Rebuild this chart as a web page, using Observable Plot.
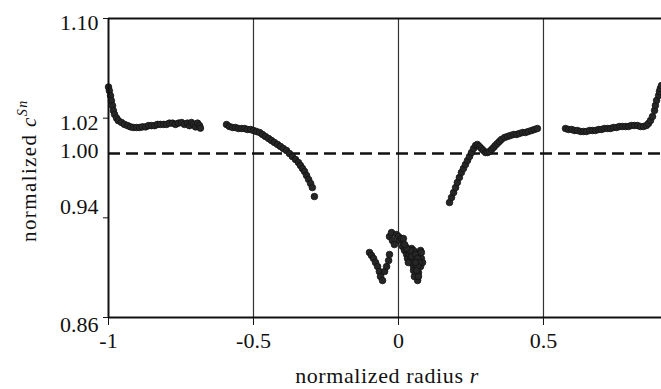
<!DOCTYPE html>
<html><head><meta charset="utf-8">
<script src="https://cdn.jsdelivr.net/npm/d3@7"></script>
<script src="https://cdn.jsdelivr.net/npm/@observablehq/plot@0.6"></script>
<style>html,body{margin:0;padding:0;background:#fff} svg{display:block}</style>
</head><body><div id="chart"></div>
<script>
// Axis ticks and reference values
const xTicks = [-1, -0.5, 0, 0.5];
const gridR = [-0.5, 0, 0.5];
const yTicks = [0.86, 0.94, 1.02, 1.10];
const refC = 0.9916;      // dashed reference line (as drawn)
const refLabel = "1.00";

// Segment 1: left edge
const r1 = [-1.000,-0.997,-0.993,-0.990,-0.986,-0.983,-0.979,-0.972,-0.966,-0.955,-0.945,-0.934,-0.924,-0.914,-0.903,-0.893,-0.883,-0.872,-0.862,-0.852,-0.841,-0.831,-0.821,-0.810,-0.800,-0.790,-0.779,-0.769,-0.759,-0.748,-0.738,-0.728,-0.721,-0.714,-0.707,-0.700,-0.693,-0.686,-0.683];
const c1 = [1.045,1.042,1.038,1.034,1.030,1.026,1.023,1.020,1.018,1.0165,1.015,1.014,1.013,1.0125,1.0125,1.0125,1.013,1.013,1.014,1.014,1.014,1.015,1.015,1.015,1.015,1.016,1.016,1.015,1.016,1.0165,1.015,1.016,1.014,1.0165,1.015,1.013,1.016,1.014,1.012];

// Segment 2: left-middle
const r2 = [-0.593,-0.583,-0.572,-0.562,-0.552,-0.541,-0.531,-0.521,-0.510,-0.500,-0.490,-0.479,-0.469,-0.459,-0.448,-0.438,-0.428,-0.417,-0.407,-0.397,-0.386,-0.376,-0.366,-0.355,-0.345,-0.338,-0.331,-0.324,-0.317,-0.310,-0.303,-0.297,-0.290];
const c2 = [1.0149,1.0133,1.0125,1.0125,1.0117,1.0117,1.0117,1.0109,1.0109,1.0101,1.0093,1.0085,1.0069,1.0053,1.0037,1.0021,1.0005,0.9989,0.9973,0.9956,0.9940,0.9916,0.9892,0.9868,0.9844,0.9820,0.9796,0.9772,0.9740,0.9708,0.9676,0.9643,0.9571];

// Segment 3: centre cluster
const r3 = [-0.100,-0.093,-0.086,-0.079,-0.072,-0.066,-0.062,-0.055,-0.048,-0.041,-0.034,-0.031,
  -0.031,-0.024,-0.021,-0.014,-0.007,0.000,0.003,0.010,0.017,0.014,0.021,0.028,0.031,0.038,0.041,0.045,0.048,0.052,0.055,0.059,0.062,0.066,0.069,0.072,0.076,0.079,0.076,0.069,0.083,0.062,0.052,0.045,0.034,0.055,
  0.024,0.031,0.038,0.045,0.052,0.059,0.066,0.072,0.066,0.059,0.052,0.062,0.069,0.079,0.041,0.028,0.021];
const c3 = [0.9122,0.9098,0.9074,0.9041,0.9009,0.8969,0.8929,0.8897,0.8969,0.9009,0.9057,0.9106,
  0.9250,0.9282,0.9218,0.9186,0.9266,0.9250,0.9218,0.9234,0.9234,0.9170,0.9138,0.9106,0.9074,0.9138,0.9090,0.9154,0.9041,0.9009,0.9122,0.8977,0.8937,0.8897,0.9041,0.9090,0.9138,0.9074,0.9009,0.8961,0.9041,0.9074,0.9074,0.9041,0.9041,0.8929,
  0.9170,0.9138,0.9106,0.9090,0.9138,0.9106,0.9074,0.9041,0.9009,0.9041,0.8977,0.8977,0.8929,0.9122,0.9138,0.9154,0.9186];

// Segment 4: right-middle
const r4 = [0.176,0.183,0.190,0.197,0.203,0.210,0.217,0.224,0.231,0.238,0.245,0.252,0.259,0.266,0.272,0.279,0.286,0.293,0.300,0.307,0.314,0.321,0.328,0.334,0.341,0.348,0.355,0.366,0.376,0.386,0.397,0.407,0.417,0.428,0.438,0.448,0.459,0.469,0.479];
const c4 = [0.9523,0.9563,0.9603,0.9643,0.9684,0.9724,0.9764,0.9796,0.9828,0.9860,0.9892,0.9924,0.9956,0.9981,0.9989,0.9973,0.9956,0.9940,0.9924,0.9924,0.9932,0.9948,0.9965,0.9981,0.9997,1.0013,1.0029,1.0045,1.0053,1.0061,1.0069,1.0069,1.0077,1.0085,1.0085,1.0093,1.0101,1.0109,1.0117];

// Segment 5: right edge
const r5 = [0.576,0.586,0.597,0.607,0.617,0.628,0.638,0.648,0.659,0.669,0.679,0.690,0.700,0.710,0.721,0.731,0.741,0.752,0.762,0.772,0.783,0.793,0.803,0.814,0.824,0.834,0.845,0.855,0.862,0.869,0.876,0.883,0.886,0.890,0.897,0.900,0.903,0.907];
const c5 = [1.0117,1.0109,1.0109,1.0101,1.0101,1.0093,1.0093,1.0093,1.0101,1.0101,1.0101,1.0109,1.0109,1.0117,1.0117,1.0117,1.0125,1.0125,1.0133,1.0133,1.0133,1.0133,1.0141,1.0141,1.0141,1.0133,1.0133,1.0141,1.0157,1.0181,1.0213,1.0262,1.0302,1.0342,1.0382,1.0414,1.0438,1.0462];

const points = [];
[[r1,c1],[r2,c2],[r3,c3],[r4,c4],[r5,c5]].forEach(([rs, cs]) => rs.forEach((r, i) => points.push({r, c: cs[i]})));

const font = "'Liberation Serif', 'Times New Roman', serif";
const fmt = d => d.toFixed(2);
// label nudges matching the scanned original
const yLabel = (v, dy) => Plot.axisY({ticks: [v], tickSize: 0, tickPadding: 10, dy, tickFormat: fmt, label: null});

const chart = Plot.plot({
  width: 661, height: 389,
  marginLeft: 108, marginRight: 0, marginTop: 18, marginBottom: 72,
  style: {fontFamily: font, fontSize: "22px", background: "#fff", color: "#111"},
  x: {domain: [-1, 0.907]},
  y: {domain: [0.86, 1.10]},
  marks: [
    Plot.ruleX(gridR, {stroke: "#333", strokeWidth: 1.2}),
    Plot.ruleY([refC], {stroke: "#111", strokeWidth: 2.5, strokeDasharray: "12,6"}),
    Plot.dot(points, {x: "r", y: "c", r: 3.3, fill: "#262626", stroke: "#111", strokeWidth: 0.8}),
    Plot.ruleY([0.86, 1.10], {stroke: "#111", strokeWidth: 2}),
    Plot.ruleX([-1], {stroke: "#111", strokeWidth: 2}),
    Plot.axisX({ticks: xTicks, tickSize: 8, tickPadding: 7, tickFormat: d => String(d), label: null}),
    Plot.axisY({ticks: yTicks, tickSize: 5, tickFormat: () => "", label: null}),
    yLabel(0.86, 7),
    yLabel(0.94, -11),
    yLabel(1.02, 5),
    yLabel(1.10, 4),
    Plot.axisY({ticks: [refC], tickSize: 0, tickPadding: 10, dy: -3, tickFormat: () => refLabel, label: null})
  ]
});

const svg = d3.select(chart);
const yl = svg.append("text")
  .attr("transform", "translate(36,242) rotate(-90)")
  .attr("font-family", font).attr("font-size", 21).attr("fill", "#111")
  .attr("letter-spacing", 1.4)
  .attr("text-anchor", "start");
yl.append("tspan").text("normalized ");
yl.append("tspan").attr("font-style", "italic").text("c");
yl.append("tspan").attr("font-style", "italic").attr("font-size", 14).attr("dy", -9).text("Sn");

const xl = svg.append("text")
  .attr("x", 387).attr("y", 383)
  .attr("font-family", font).attr("font-size", 22).attr("fill", "#111")
  .attr("letter-spacing", 0.6)
  .attr("text-anchor", "middle");
xl.append("tspan").text("normalized radius ");
xl.append("tspan").attr("font-style", "italic").text("r");

document.getElementById("chart").append(chart);
</script>
</body></html>
